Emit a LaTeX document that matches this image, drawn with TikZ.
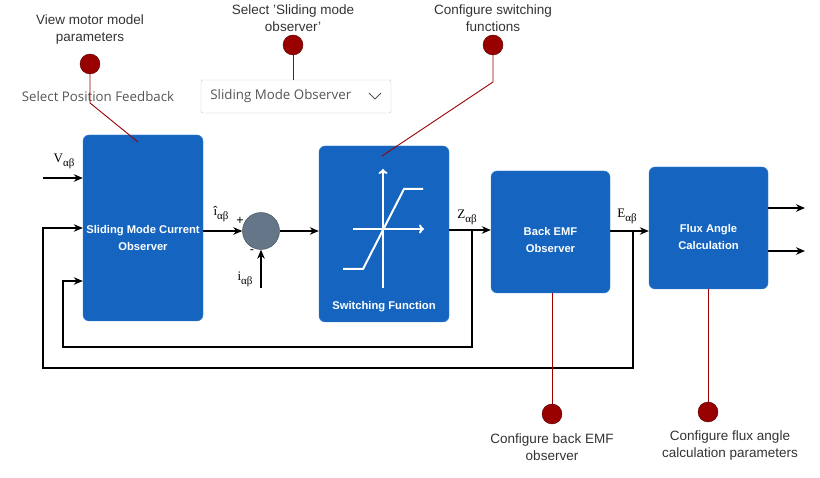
\documentclass[tikz,border=0pt]{standalone}
\usepackage{fontspec}
\setmainfont{Liberation Sans}
\newfontfamily\labfont{Liberation Serif}
\newfontfamily\uifont{Open Sans}
\usetikzlibrary{positioning, arrows.meta}

\definecolor{blockblue}{HTML}{1565C0}
\definecolor{spotred}{HTML}{990000}
\definecolor{sumgray}{HTML}{647687}
\definecolor{textgray}{HTML}{333333}
\definecolor{uigray}{HTML}{555555}

\newcommand{\sigsub}[2]{#1\raisebox{-4pt}{\fontsize{11}{11}\selectfont #2}}

\begin{document}
\begin{tikzpicture}[x=1pt, y=-1pt,
	block/.style={rectangle, rounded corners=6pt, fill=blockblue, draw=blockblue!85!white, inner sep=0pt},
	blocktext/.style={text=white, font=\fontsize{11.2}{17}\selectfont\bfseries, align=center},
	hotspot/.style={circle, fill=spotred, draw=spotred!55!black, minimum size=20pt, inner sep=0pt},
	callout/.style={font=\fontsize{13.5}{17}\selectfont, text=textgray, align=center},
	uitext/.style={font=\uifont\fontsize{13.3}{15}\selectfont, text=uigray},
	pin/.style={draw=spotred, line width=0.9pt},
	wire/.style={draw=black, line width=1.2pt},
	sig/.style={wire, -{Stealth[length=9pt, width=7.5pt]}},
	siglabel/.style={font=\labfont\fontsize{13}{13}\selectfont, inner sep=0pt}]

	\useasboundingbox (0,0) rectangle (820,478);

	% blocks
	\node[block, minimum width=120pt, minimum height=186pt] (smco) at (143,228) {};
	\node[block, minimum width=130pt, minimum height=176pt] (swf) at (384,234) {};
	\node[block, minimum width=119pt, minimum height=122pt] (bemf) at (550.5,232) {};
	\node[block, minimum width=119pt, minimum height=122pt] (flux) at (708.5,228) {};
	\node[circle, fill=sumgray, draw=sumgray!60!black, minimum size=37pt, inner sep=0pt] (sum) at (261,231) {};

	\node[blocktext] at ([yshift=-10pt]smco.center) {Sliding Mode Current\\Observer};
	\node[blocktext] at ([yshift=-73pt]swf.center) {Switching Function};
	\node[blocktext] at ([yshift=-8pt]bemf.center) {Back EMF\\Observer};
	\node[blocktext] at ([yshift=-8.5pt]flux.center) {Flux Angle\\Calculation};

	% switching characteristic
	\draw[white, line width=2pt, -{To[length=5pt, width=9pt]}] (383,288) -- (383,169);
	\draw[white, line width=2pt, -{To[length=5pt, width=9pt]}] (353,229) -- (424,229);
	\draw[white, line width=2pt] (343,269) -- (363,269) -- (404,189) -- (423,189);

	% dropdown
	\node[draw=gray!45, fill=white, rounded corners=2pt, minimum width=190pt, minimum height=33pt] (menu) at (296,96.5) {};
	\node[uitext, anchor=west] at ([xshift=6pt]menu.west) {Sliding Mode Observer};
	\draw[uigray, line width=1pt] (369,93) -- (375,99) -- (381,93);
	\node[uitext] (feedback) at (98,97) {Select Position Feedback};

	% signals
	\coordinate (vin) at (43,178);
	\coordinate (ein) at (43,228);
	\coordinate (eloop) at (43,368);
	\coordinate (esplit) at (633,231);
	\coordinate (zin) at (63,281);
	\coordinate (zloop) at (63,347);
	\coordinate (zsplit) at (472,230);
	\coordinate (iin) at (261,288);
	\coordinate (out1) at (805,208);
	\coordinate (out2) at (805,251);

	\draw[sig] (vin) -- (vin -| smco.west);
	\draw[sig] (smco.east |- sum) -- (sum.west);
	\draw[sig] (iin) -- (sum.south);
	\draw[sig] (sum.east) -- (sum -| swf.west);
	\draw[sig] (swf.east |- zsplit) -- (bemf.west |- zsplit);
	\draw[sig] (bemf.east |- esplit) -- (flux.west |- esplit);
	\draw[sig] (flux.east |- out1) -- (out1);
	\draw[sig] (flux.east |- out2) -- (out2);
	\draw[sig] (zsplit) |- (zloop) -- (zin) -- (smco.west |- zin);
	\draw[sig] (esplit) |- (eloop) -- (ein) -- (smco.west |- ein);

	\node[siglabel] at (64,161) {\sigsub{V}{αβ}};
	\node[siglabel] at (221,214) {\sigsub{î}{αβ}};
	\node[siglabel] at (245,279) {\sigsub{i}{αβ}};
	\node[siglabel] at (467,217) {\sigsub{Z}{αβ}};
	\node[siglabel] at (627,216) {\sigsub{E}{αβ}};
	\node[font=\fontsize{12.5}{12}\selectfont, inner sep=0pt] at (240,221) {+};
	\node[font=\fontsize{12.5}{12}\selectfont, inner sep=0pt] at (252,252) {-};

	% hotspots
	\coordinate (motorbend) at (90,103);
	\coordinate (motorend) at (138,142);
	\coordinate (switchbend) at (493,82);
	\coordinate (switchend) at (382,156);

	\node[hotspot] (motor) at (90,64) {};
	\node[hotspot] (mode) at (293,45) {};
	\node[hotspot] (switch) at (493,45) {};
	\node[hotspot] (emf) at (552,414) {};
	\node[hotspot] (angle) at (708,412) {};

	\draw[pin] (motor) -- (motorbend) -- (motorend);
	\draw[pin] (mode) -- (mode |- menu.north);
	\draw[pin] (switch) -- (switchbend) -- (switchend);
	\draw[pin] (emf) -- (emf |- bemf.south);
	\draw[pin] (angle) -- (angle |- flux.south);

	\node[callout, above=6pt of motor] {View motor model\\parameters};
	\node[callout, above=0pt of mode] {Select 'Sliding mode\\observer'};
	\node[callout, above=0pt of switch] {Configure switching\\functions};
	\node[callout, below=6pt of emf] {Configure back EMF\\observer};
	\node[callout, below=5pt of angle, xshift=22pt] {Configure flux angle\\calculation parameters};
\end{tikzpicture}
\end{document}
